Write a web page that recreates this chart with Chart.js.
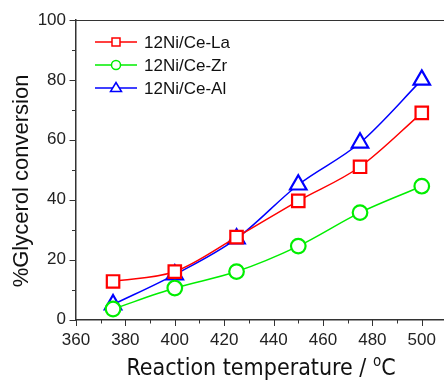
<!DOCTYPE html>
<html>
<head>
<meta charset="utf-8">
<script src="https://cdn.jsdelivr.net/npm/chart.js@4"></script>
<style>
  html, body { margin: 0; padding: 0; background: #fff; }
  #wrap { position: relative; width: 444px; height: 380px; }
</style>
</head>
<body>
<div id="wrap"><canvas id="chart"></canvas></div>
<script>
// temperatures (°C)
const temps = [375, 400, 425, 450, 475, 500];
// % glycerol conversion
const ceLa = [12.7, 16, 27.5, 39.6, 51, 69];
const ceZr = [3.5, 10.5, 16, 24.5, 35.7, 44.5];
const ceAl = [5, 15, 27, 45, 59, 80];
const seriesNames = ["12Ni/Ce-La", "12Ni/Ce-Zr", "12Ni/Ce-Al"];
const seriesColors = ["#ff0000", "#00ee00", "#0000ff"];
const seriesShapes = ["rect", "circle", "triangle"];
const xTicks = [360, 380, 400, 420, 440, 460, 480, 500];
const yTicks = [0, 20, 40, 60, 80, 100];
const xTitle = ["Reaction temperature / ", "o", "C"];
const yTitle = "%Glycerol conversion";

const axisColor = "#333";
const markerSize = { rect: 8.8, circle: 7.3, triangle: 9.5 };

function makeSet(i, vals) {
  return {
    label: seriesNames[i],
    data: temps.map((t, k) => ({ x: t, y: vals[k] })),
    borderColor: seriesColors[i],
    backgroundColor: "transparent",
    borderWidth: 1.5,
    pointStyle: seriesShapes[i],
    pointRadius: markerSize[seriesShapes[i]],
    pointBorderWidth: 2.2,
    pointBackgroundColor: "#fff",
    pointBorderColor: seriesColors[i],
    cubicInterpolationMode: "monotone",
    clip: false,
    fill: false
  };
}

// ticks, top frame, axis titles, custom legend
const extras = {
  id: "extras",
  afterDraw(chart) {
    const ctx = chart.ctx;
    const a = chart.chartArea;
    const xs = chart.scales.x, ys = chart.scales.y;
    ctx.save();
    ctx.strokeStyle = axisColor;
    ctx.lineWidth = 1;
    // top frame
    ctx.beginPath();
    ctx.moveTo(a.left, a.top + 0.5);
    ctx.lineTo(a.right, a.top + 0.5);
    ctx.stroke();
    // ticks (major + minor)
    ctx.beginPath();
    for (let v = 360; v <= 500; v += 10) {
      const px = Math.round(xs.getPixelForValue(v)) + 0.5;
      ctx.moveTo(px, a.bottom);
      ctx.lineTo(px, a.bottom + (v % 20 === 0 ? 6.5 : 4));
    }
    for (let v = 0; v <= 100; v += 10) {
      const py = Math.round(ys.getPixelForValue(v)) + 0.5;
      ctx.moveTo(a.left, py);
      ctx.lineTo(a.left - (v % 20 === 0 ? 6.5 : 4), py);
    }
    ctx.stroke();

    // x title with superscript o
    const f1 = "23px 'DejaVu Sans Condensed', 'DejaVu Sans', sans-serif";
    const f2 = "15px 'DejaVu Sans Condensed', 'DejaVu Sans', sans-serif";
    ctx.fillStyle = "#111";
    ctx.textBaseline = "alphabetic";
    ctx.textAlign = "left";
    ctx.font = f1;
    const w1 = ctx.measureText(xTitle[0]).width, w3 = ctx.measureText(xTitle[2]).width;
    ctx.font = f2;
    const w2 = ctx.measureText(xTitle[1]).width;
    let tx = 261 - (w1 + w2 + w3) / 2;
    const by = 375;
    ctx.font = f1; ctx.fillText(xTitle[0], tx, by); tx += w1;
    ctx.font = f2; ctx.fillText(xTitle[1], tx, by - 9); tx += w2;
    ctx.font = f1; ctx.fillText(xTitle[2], tx, by);

    // y title
    ctx.save();
    ctx.translate(28, 181);
    ctx.rotate(-Math.PI / 2);
    ctx.textAlign = "center";
    ctx.font = "22px 'Liberation Sans', Arial, sans-serif";
    ctx.fillText(yTitle, 0, 0);
    ctx.restore();

    // legend
    const x0 = a.left + 19, x1 = a.left + 61, lx = a.left + 68;
    const cx = (x0 + x1) / 2;
    chart.data.datasets.forEach((ds, i) => {
      const y = a.top + 22 + i * 23;
      ctx.strokeStyle = ds.borderColor;
      ctx.lineWidth = 1.5;
      ctx.beginPath();
      ctx.moveTo(x0, y);
      ctx.lineTo(x1, y);
      ctx.stroke();
      ctx.fillStyle = "#fff";
      ctx.beginPath();
      if (ds.pointStyle === "rect") {
        ctx.rect(cx - 4, y - 4, 8, 8);
      } else if (ds.pointStyle === "circle") {
        ctx.arc(cx, y, 4.5, 0, Math.PI * 2);
      } else {
        ctx.moveTo(cx, y - 5.5);
        ctx.lineTo(cx + 5.5, y + 3.5);
        ctx.lineTo(cx - 5.5, y + 3.5);
        ctx.closePath();
      }
      ctx.fill();
      ctx.stroke();
      ctx.fillStyle = "#111";
      ctx.font = "17px 'Liberation Sans', Arial, sans-serif";
      ctx.textBaseline = "middle";
      ctx.fillText(ds.label, lx, y + 1);
    });
    ctx.restore();
  }
};

new Chart(document.getElementById("chart"), {
  type: "line",
  data: {
    datasets: [makeSet(0, ceLa), makeSet(1, ceZr), makeSet(2, ceAl)]
  },
  options: {
    responsive: true,
    maintainAspectRatio: false,
    animation: false,
    layout: { autoPadding: false, padding: { top: 20, right: 0, left: 0, bottom: 0 } },
    plugins: {
      legend: { display: false },
      tooltip: { enabled: false }
    },
    scales: {
      x: {
        type: "linear",
        min: 360,
        max: 509,
        afterBuildTicks(scale) {
          scale.ticks = xTicks.map(v => ({ value: v }));
        },
        afterFit(scale) {
          scale.height = 60.5;
          scale.paddingLeft = 0;
          scale.paddingRight = 0;
        },
        grid: { display: false, drawTicks: false },
        border: { color: axisColor, width: 1.5 },
        ticks: {
          color: "#222",
          padding: 11,
          maxRotation: 0,
          font: { family: "'Liberation Sans', Arial, sans-serif", size: 17 }
        }
      },
      y: {
        min: 0,
        max: 100,
        afterBuildTicks(scale) {
          scale.ticks = yTicks.map(v => ({ value: v }));
        },
        afterFit(scale) {
          scale.width = 76;
          scale.paddingTop = 0;
          scale.paddingBottom = 0;
        },
        grid: { display: false, drawTicks: false },
        border: { color: axisColor, width: 1.5 },
        ticks: {
          color: "#222",
          padding: 10,
          font: { family: "'Liberation Sans', Arial, sans-serif", size: 17 }
        }
      }
    }
  },
  plugins: [extras]
});
</script>
</body>
</html>
